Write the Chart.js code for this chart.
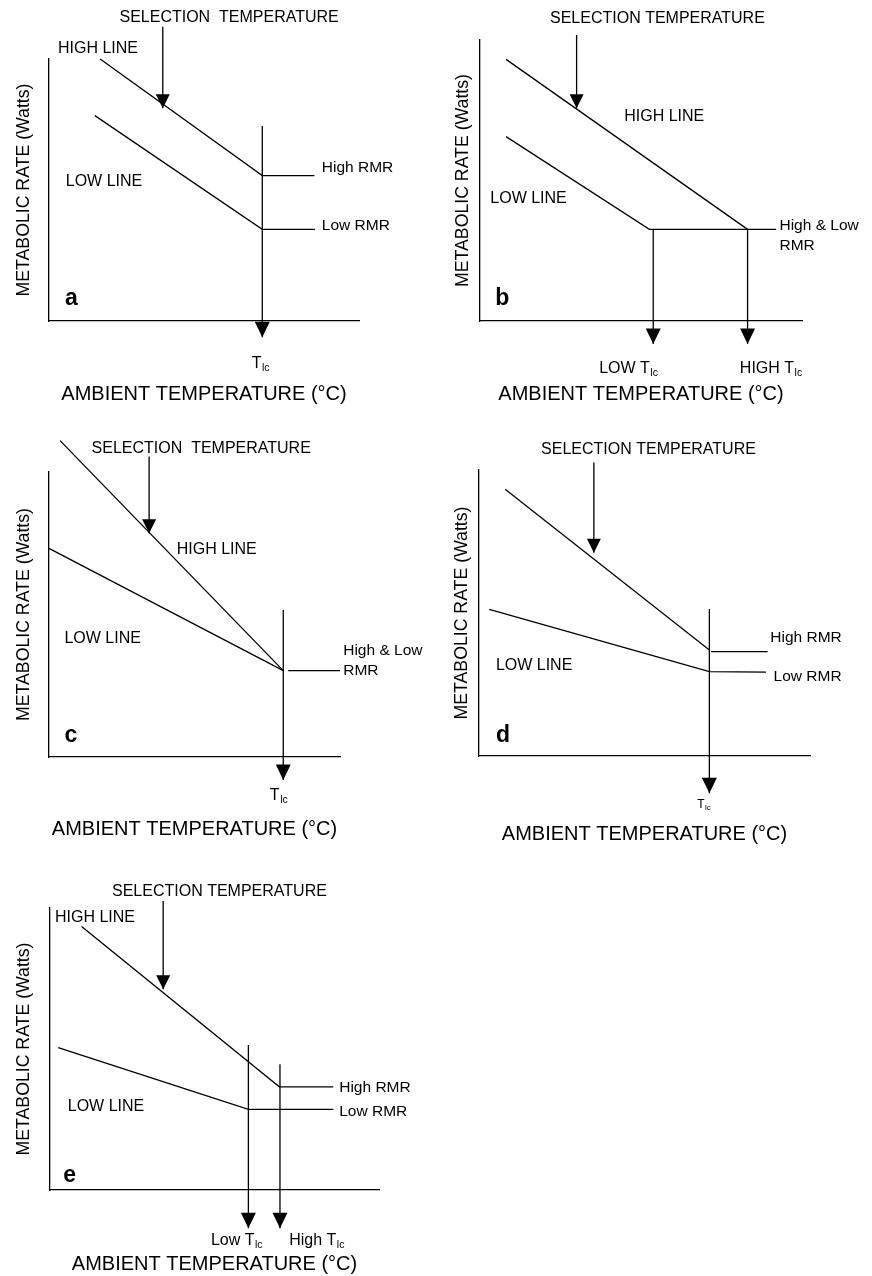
<!DOCTYPE html>
<html>
<head>
<meta charset="utf-8">
<script src="https://cdn.jsdelivr.net/npm/chart.js@4.4.1/dist/chart.umd.min.js"></script>
<style>
  html, body { margin: 0; padding: 0; background: #ffffff; }
  #wrap { position: relative; width: 872px; height: 1276px; background: #ffffff; }
  canvas { position: absolute; display: block; }
</style>
</head>
<body>
<div id="wrap">
  <canvas id="pa" style="left:0px;top:0px"></canvas>
  <canvas id="pb" style="left:436px;top:0px"></canvas>
  <canvas id="pc" style="left:0px;top:420px"></canvas>
  <canvas id="pd" style="left:436px;top:420px"></canvas>
  <canvas id="pe" style="left:0px;top:860px"></canvas>
</div>
<script>
// ---------------- DATA (arbitrary units: x = ambient temperature 0-100, y = metabolic rate 0-100) ----------------
const X_TITLE = 'AMBIENT TEMPERATURE (°C)';
const Y_TITLE = 'METABOLIC RATE (Watts)';

// Panel a
const aHighLine  = [[16.5, 100.0], [68.8, 55.5], [85.6, 55.5]];
const aLowLine   = [[14.8, 78.4], [68.8, 35.0], [85.8, 35.0]];
const aTlcArrow  = [[68.8, 74.4], [68.8, -6.2]];
const aSelArrow  = [[36.7, 112.3], [36.7, 81.2]];
const aLabels = [
  {text: 'SELECTION  TEMPERATURE', x: 58.1, y: 114.1, align: 'center', kind: 'label'},
  {text: 'HIGH LINE', x: 2.9, y: 102.4, kind: 'label'},
  {text: 'LOW LINE', x: 5.4, y: 51.6, kind: 'label'},
  {text: 'High RMR', x: 88.0, y: 56.8, kind: 'rmr'},
  {text: 'Low RMR', x: 88.0, y: 34.7, kind: 'rmr'},
  {text: 'a', x: 5.2, y: 6.1, kind: 'letter'},
  {text: 'T', sub: 'lc', x: 65.4, y: -18.1, kind: 'tlc'}
];

// Panel b
const bHighLine     = [[8.1, 93.1], [83.1, 32.6]];
const bLowLine      = [[8.1, 65.6], [52.6, 32.6], [91.9, 32.6]];
const bLowTlcArrow  = [[53.8, 32.6], [53.8, -8.2]];
const bHighTlcArrow = [[83.1, 32.6], [83.1, -8.2]];
const bSelArrow     = [[30.0, 101.8], [30.0, 75.7]];
const bLabels = [
  {text: 'SELECTION TEMPERATURE', x: 55.1, y: 105.9, align: 'center', kind: 'label'},
  {text: 'HIGH LINE', x: 44.8, y: 71.2, kind: 'label'},
  {text: 'LOW LINE', x: 3.2, y: 41.9, kind: 'label'},
  {text: 'High & Low', x: 93.0, y: 32.4, kind: 'rmr'},
  {text: 'RMR', x: 93.0, y: 25.3, kind: 'rmr'},
  {text: 'b', x: 4.7, y: 5.7, kind: 'letter'},
  {text: 'LOW T', sub: 'lc', x: 37.0, y: -18.4, kind: 'tlc'},
  {text: 'HIGH T', sub: 'lc', x: 80.7, y: -18.4, kind: 'tlc'}
];

// Panel c
const cHighLine = [[3.8, 111.0], [80.5, 30.3]];
const cLowLine  = [[0.0, 73.2], [80.5, 30.3]];
const cRmrLine  = [[82.2, 30.3], [100.0, 30.3]];
const cTlcArrow = [[80.5, 51.6], [80.5, -8.1]];
const cSelArrow = [[34.4, 105.4], [34.4, 78.5]];
const cLabels = [
  {text: 'SELECTION  TEMPERATURE', x: 52.3, y: 106.6, align: 'center', kind: 'label'},
  {text: 'HIGH LINE', x: 43.9, y: 71.1, kind: 'label'},
  {text: 'LOW LINE', x: 5.3, y: 39.9, kind: 'label'},
  {text: 'High & Low', x: 101.1, y: 35.8, kind: 'rmr'},
  {text: 'RMR', x: 101.1, y: 28.8, kind: 'rmr'},
  {text: 'c', x: 5.3, y: 5.4, kind: 'letter'},
  {text: 'T', sub: 'lc', x: 75.9, y: -15.1, kind: 'tlc'}
];

// Panel d
const dHighLine    = [[7.9, 93.3], [69.6, 37.1]];
const dLowLine     = [[3.1, 51.3], [69.6, 29.5], [86.7, 29.3]];
const dHighRmrLine = [[70.1, 36.5], [87.2, 36.5]];
const dTlcArrow    = [[69.6, 51.4], [69.6, -13.0]];
const dSelArrow    = [[34.7, 102.6], [34.7, 71.1]];
const dLabels = [
  {text: 'SELECTION TEMPERATURE', x: 51.2, y: 105.5, align: 'center', kind: 'label'},
  {text: 'High RMR', x: 88.0, y: 39.8, kind: 'rmr'},
  {text: 'Low RMR', x: 89.0, y: 26.2, kind: 'rmr'},
  {text: 'LOW LINE', x: 5.1, y: 30.1, kind: 'label'},
  {text: 'd', x: 5.1, y: 4.8, kind: 'letter'},
  {text: 'T', sub: 'lc', x: 65.9, y: -18.3, kind: 'tlcSmall'}
];

// Panel e
const eHighLine     = [[9.6, 93.4], [69.7, 36.6], [86.1, 36.6]];
const eLowLine      = [[2.5, 50.5], [60.3, 28.6], [86.1, 28.6]];
const eLowTlcArrow  = [[60.3, 51.4], [60.3, -13.6]];
const eHighTlcArrow = [[69.9, 44.6], [69.9, -13.6]];
const eSelArrow     = [[34.4, 102.5], [34.4, 71.2]];
const eLabels = [
  {text: 'SELECTION TEMPERATURE', x: 51.5, y: 104.4, align: 'center', kind: 'label'},
  {text: 'HIGH LINE', x: 1.5, y: 95.1, kind: 'label'},
  {text: 'LOW LINE', x: 5.4, y: 28.1, kind: 'label'},
  {text: 'High RMR', x: 87.9, y: 34.9, kind: 'rmr'},
  {text: 'Low RMR', x: 87.9, y: 26.2, kind: 'rmr'},
  {text: 'e', x: 4.0, y: 2.9, kind: 'letter'},
  {text: 'Low T', sub: 'lc', x: 48.9, y: -19.5, kind: 'tlc'},
  {text: 'High T', sub: 'lc', x: 72.7, y: -19.5, kind: 'tlc'}
];

// ---------------- STYLE / LAYOUT ----------------
const FONT = '"Liberation Sans", Arial, Helvetica, sans-serif';
Chart.defaults.font.family = FONT;
Chart.defaults.color = '#000000';

const STYLES = {
  label:    {size: 16, weight: 'normal'},
  rmr:      {size: 15.5, weight: 'normal'},
  letter:   {size: 23, weight: 'bold'},
  tlc:      {size: 16, weight: 'normal', sub: 10.5, subDrop: 3, subGap: 0.5},
  tlcSmall: {size: 12, weight: 'normal', sub: 8, subDrop: 2, subGap: 0.5}
};
const TIP_ARROW = [15, 15.5];
const SEL_ARROW = [14, 14];

const arrowPlugin = {
  id: 'arrowHeads',
  afterDatasetsDraw(chart) {
    const ctx = chart.ctx;
    chart.data.datasets.forEach((ds, i) => {
      if (!ds.arrowSize) return;
      const pts = chart.getDatasetMeta(i).data;
      if (pts.length < 2) return;
      const tip = pts[pts.length - 1], prev = pts[pts.length - 2];
      let dx = tip.x - prev.x, dy = tip.y - prev.y;
      const len = Math.hypot(dx, dy) || 1;
      dx /= len; dy /= len;
      const w = ds.arrowSize[0], h = ds.arrowSize[1];
      const bx = tip.x - dx * h, by = tip.y - dy * h;
      ctx.save();
      ctx.fillStyle = '#000000';
      ctx.beginPath();
      ctx.moveTo(tip.x, tip.y);
      ctx.lineTo(bx - dy * w / 2, by + dx * w / 2);
      ctx.lineTo(bx + dy * w / 2, by - dx * w / 2);
      ctx.closePath();
      ctx.fill();
      ctx.restore();
    });
  }
};

function textPlugin(items) {
  return {
    id: 'panelText',
    afterDraw(chart) {
      const ctx = chart.ctx;
      const xs = chart.scales.x, ys = chart.scales.y;
      ctx.save();
      ctx.fillStyle = '#000000';
      ctx.textBaseline = 'alphabetic';
      items.forEach(it => {
        const st = STYLES[it.kind];
        const px = xs.getPixelForValue(it.x);
        const py = ys.getPixelForValue(it.y);
        ctx.font = st.weight + ' ' + st.size + 'px ' + FONT;
        ctx.textAlign = it.align || 'left';
        ctx.fillText(it.text, px, py);
        if (it.sub) {
          const w = ctx.measureText(it.text).width;
          ctx.font = 'normal ' + st.sub + 'px ' + FONT;
          ctx.textAlign = 'left';
          ctx.fillText(it.sub, px + w + st.subGap, py + st.subDrop);
        }
      });
      ctx.restore();
    }
  };
}

function lineSet(points, arrow) {
  const ds = {
    data: points.map(p => ({x: p[0], y: p[1]})),
    showLine: true,
    borderColor: '#000000',
    borderWidth: 1.3,
    pointRadius: 0,
    pointHoverRadius: 0,
    fill: false,
    tension: 0,
    clip: false
  };
  if (arrow) ds.arrowSize = arrow;
  return ds;
}

const PANELS = [
  {id: 'pa', W: 436, H: 420, area: {l: 49, r: 359, t: 59, b: 321}, yTitleX: 24.5, xTitleBase: 401.7,
   series: [[aHighLine], [aLowLine], [aTlcArrow, TIP_ARROW], [aSelArrow, SEL_ARROW]], labels: aLabels},
  {id: 'pb', W: 436, H: 420, area: {l: 44, r: 366, t: 40, b: 321}, yTitleX: 27.5, xTitleBase: 401.7,
   series: [[bHighLine], [bLowLine], [bLowTlcArrow, TIP_ARROW], [bHighTlcArrow, TIP_ARROW], [bSelArrow, SEL_ARROW]], labels: bLabels},
  {id: 'pc', W: 436, H: 440, area: {l: 49, r: 340, t: 52, b: 337}, yTitleX: 24.5, xTitleBase: 416.7,
   series: [[cHighLine], [cLowLine], [cRmrLine], [cTlcArrow, TIP_ARROW], [cSelArrow, SEL_ARROW]], labels: cLabels},
  {id: 'pd', W: 436, H: 440, area: {l: 43, r: 374, t: 50, b: 336}, yTitleX: 26, xTitleBase: 421.7,
   series: [[dHighLine], [dLowLine], [dHighRmrLine], [dTlcArrow, TIP_ARROW], [dSelArrow, SEL_ARROW]], labels: dLabels},
  {id: 'pe', W: 436, H: 416, area: {l: 50, r: 379, t: 48, b: 330}, yTitleX: 24.5, xTitleBase: 411.7,
   series: [[eHighLine], [eLowLine], [eLowTlcArrow, TIP_ARROW], [eHighTlcArrow, TIP_ARROW], [eSelArrow, SEL_ARROW]], labels: eLabels}
];

const X_TITLE_SIZE = 20, Y_TITLE_SIZE = 17.7;

function makeChart(p) {
  const canvas = document.getElementById(p.id);
  canvas.width = p.W;
  canvas.height = p.H;
  const xTitleCenter = p.xTitleBase - 0.3465 * X_TITLE_SIZE;
  const xPad = Math.max(0, p.H - xTitleCenter - X_TITLE_SIZE / 2);
  const yPad = Math.max(0, p.yTitleX - Y_TITLE_SIZE / 2);
  return new Chart(canvas, {
    type: 'scatter',
    data: {datasets: p.series.map(s => lineSet(s[0], s[1]))},
    options: {
      responsive: false,
      animation: false,
      events: [],
      layout: {autoPadding: false, padding: {left: 0, top: p.area.t, right: p.W - p.area.r, bottom: 0}},
      plugins: {legend: {display: false}, tooltip: {enabled: false}},
      scales: {
        x: {
          type: 'linear', min: 0, max: 100,
          grid: {display: false, drawTicks: false},
          ticks: {display: false},
          border: {display: true, color: '#000000', width: 1.3},
          title: {display: true, text: X_TITLE, color: '#000000',
                  font: {size: X_TITLE_SIZE, lineHeight: 1, family: FONT},
                  padding: {top: 0, bottom: xPad}},
          afterFit: s => { s.height = p.H - p.area.b; }
        },
        y: {
          type: 'linear', min: 0, max: 100,
          grid: {display: false, drawTicks: false},
          ticks: {display: false},
          border: {display: true, color: '#000000', width: 1.3},
          title: {display: true, text: Y_TITLE, color: '#000000',
                  font: {size: Y_TITLE_SIZE, lineHeight: 1, family: FONT},
                  padding: {top: yPad, bottom: 0}},
          afterFit: s => { s.width = p.area.l; }
        }
      }
    },
    plugins: [arrowPlugin, textPlugin(p.labels)]
  });
}

PANELS.forEach(makeChart);
</script>
</body>
</html>
